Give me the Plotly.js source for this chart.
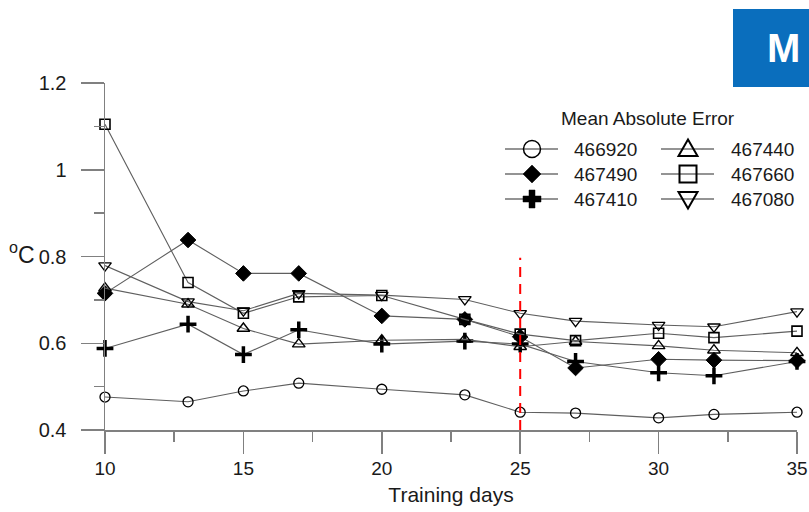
<!DOCTYPE html>
<html>
<head>
<meta charset="utf-8">
<script src="https://cdn.plot.ly/plotly-3.0.1.min.js"></script>
<style>html,body{margin:0;padding:0;background:#fff;}#chart{width:809px;height:512px;}</style>
</head>
<body>
<div id="chart"></div>
<script>
const days = [10, 13, 15, 17, 20, 23, 25, 27, 30, 32, 35];
const s466920 = [0.476, 0.465, 0.490, 0.508, 0.494, 0.481, 0.441, 0.439, 0.428, 0.436, 0.441];
const s467440 = [0.727, 0.690, 0.634, 0.598, 0.607, 0.609, 0.592, 0.604, 0.594, 0.584, 0.578];
const s467490 = [0.715, 0.838, 0.761, 0.761, 0.663, 0.655, 0.615, 0.543, 0.563, 0.561, 0.560];
const s467660 = [1.105, 0.740, 0.669, 0.707, 0.710, 0.655, 0.621, 0.606, 0.623, 0.613, 0.628];
const s467410 = [0.588, 0.644, 0.574, 0.631, 0.598, 0.605, 0.598, 0.558, 0.532, 0.525, 0.558];
const s467080 = [0.779, 0.696, 0.675, 0.715, 0.711, 0.701, 0.669, 0.651, 0.642, 0.638, 0.673];
const seriesNames = ['466920', '467490', '467410', '467440', '467660', '467080'];
const seriesValues = [s466920, s467490, s467410, s467440, s467660, s467080];
const symbols = ['circle-open', 'diamond', 'cross-thin-open', 'triangle-up-open', 'square-open', 'triangle-down-open'];
const legendKeys = ['circle', 'diamond', 'cross', 'tri-up', 'square', 'tri-down'];
const legendTitle = 'Mean Absolute Error';
const xTitle = 'Training days';
const yTitle = '<sup>o</sup>C';
const cutoffDay = 25;
const yTickVals = [0.4, 0.6, 0.8, 1.0, 1.2];
const yTickText = ['0.4', '0.6', '0.8', '1', '1.2'];
const xTickVals = [10, 15, 20, 25, 30, 35];

const mSize = {'circle-open': 10, 'diamond': 12, 'cross-thin-open': 12, 'triangle-up-open': 11, 'square-open': 10, 'triangle-down-open': 11};
const mLine = {'circle-open': 1.3, 'diamond': 1, 'cross-thin-open': 3.5, 'triangle-up-open': 1.4, 'square-open': 1.6, 'triangle-down-open': 1.3};

const traces = seriesNames.map((n, i) => ({
  x: days, y: seriesValues[i], name: n, type: 'scatter', mode: 'lines+markers', showlegend: false,
  line: {color: '#5f5f5f', width: 1.1},
  marker: {symbol: symbols[i], size: mSize[symbols[i]], color: '#000', line: {color: '#000', width: mLine[symbols[i]]}},
  cliponaxis: false
}));

// plot area in pixels (for the hand-made two-column legend)
const PL = 105, PR = 797, PT = 83, PB = 430;
const px = v => (v - PL) / (PR - PL);
const py = v => (PB - v) / (PB - PT);

const keyPaths = {
  'diamond': 'M0,9 L9,0 L0,-9 L-9,0 Z',
  'cross': 'M-3,9 L3,9 L3,3 L9,3 L9,-3 L3,-3 L3,-9 L-3,-9 L-3,-3 L-9,-3 L-9,3 L-3,3 Z',
  'tri-up': 'M-9.5,-7 L9.5,-7 L0,9.5 Z',
  'tri-down': 'M-9.5,7 L9.5,7 L0,-9.5 Z',
  'square': 'M-8.5,-8.5 L8.5,-8.5 L8.5,8.5 L-8.5,8.5 Z'
};
const colSymX = [532, 688], colTextX = [572, 729], rowY = [149, 174, 199];
const legendShapes = [], legendAnn = [];
seriesNames.forEach((n, i) => {
  const col = Math.floor(i / 3), row = i % 3;
  const ax = px(colSymX[col]), ay = py(rowY[row]);
  const base = {xref: 'paper', yref: 'paper', xsizemode: 'pixel', ysizemode: 'pixel', xanchor: ax, yanchor: ay, layer: 'above'};
  legendShapes.push(Object.assign({}, base, {type: 'line', x0: -27, x1: 26, y0: 0, y1: 0, line: {color: '#2a2a2a', width: 1.2}}));
  const k = legendKeys[i];
  if (k === 'circle') {
    legendShapes.push(Object.assign({}, base, {type: 'circle', x0: -8.5, x1: 8.5, y0: -8.5, y1: 8.5, line: {color: '#000', width: 1.5}}));
  } else {
    const filled = (k === 'diamond' || k === 'cross');
    legendShapes.push(Object.assign({}, base, {type: 'path', path: keyPaths[k],
      fillcolor: filled ? '#000' : 'rgba(0,0,0,0)', line: {color: '#000', width: filled ? 0.5 : 2}}));
  }
  legendAnn.push({xref: 'paper', yref: 'paper', x: px(colTextX[col]), y: ay, xanchor: 'left', yanchor: 'middle',
    showarrow: false, text: n, font: {size: 19, color: '#1a1a1a'}});
});
legendAnn.push({xref: 'paper', yref: 'paper', x: px(648), y: py(118), xanchor: 'center', yanchor: 'middle',
  showarrow: false, text: legendTitle, font: {size: 19, color: '#1a1a1a'}});

const axisCol = '#808080';
const layout = {
  width: 809, height: 512,
  margin: {l: PL, r: 809 - PR, t: PT, b: 512 - PB},
  paper_bgcolor: '#fff', plot_bgcolor: '#fff',
  font: {family: 'Liberation Sans, Arial, sans-serif', size: 20, color: '#1a1a1a'},
  showlegend: false,
  xaxis: {
    range: [10, 35], tickvals: xTickVals, ticks: 'outside', ticklen: 22, tickwidth: 1.5, tickcolor: axisCol,
    minor: {tickvals: [12.5, 17.5, 22.5, 27.5, 32.5], ticks: 'outside', ticklen: 10, tickwidth: 1.5, tickcolor: axisCol},
    showline: true, linecolor: axisCol, linewidth: 1.5, showgrid: false, zeroline: false,
    title: {text: xTitle, font: {size: 21}, standoff: 9},
    tickfont: {size: 19},
    ticklabelstandoff: -1
  },
  yaxis: {
    range: [0.4, 1.2], tickvals: yTickVals, ticktext: yTickText,
    ticks: 'outside', ticklen: 23, tickwidth: 1.5, tickcolor: axisCol,
    minor: {tickvals: [0.5, 0.7, 0.9, 1.1], ticks: 'outside', ticklen: 10, tickwidth: 1.5, tickcolor: axisCol},
    showline: true, linecolor: axisCol, linewidth: 1.5, showgrid: false, zeroline: false,
    tickfont: {size: 20},
    ticklabelstandoff: 10
  },
  shapes: [
    {type: 'line', xref: 'x', yref: 'y', x0: cutoffDay, x1: cutoffDay, y0: 0.4, y1: 0.797,
     line: {color: '#ff0000', width: 2, dash: '10px,7px'}},
    {type: 'rect', xref: 'paper', yref: 'paper', x0: px(733), x1: px(815), y0: py(87), y1: py(9),
     fillcolor: '#0a6ebd', line: {width: 0}, layer: 'above'}
  ].concat(legendShapes),
  annotations: [
    {xref: 'paper', yref: 'paper', x: px(22), y: py(253), xanchor: 'center', yanchor: 'middle', showarrow: false,
     text: yTitle, font: {size: 23, color: '#1a1a1a'}},
    {xref: 'paper', yref: 'paper', x: px(765), y: py(48), xanchor: 'left', yanchor: 'middle', showarrow: false,
     text: '<b>M</b>', font: {size: 40, color: '#ffffff'}}
  ].concat(legendAnn)
};

Plotly.newPlot('chart', traces, layout, {displayModeBar: false, staticPlot: true});
</script>
</body>
</html>
